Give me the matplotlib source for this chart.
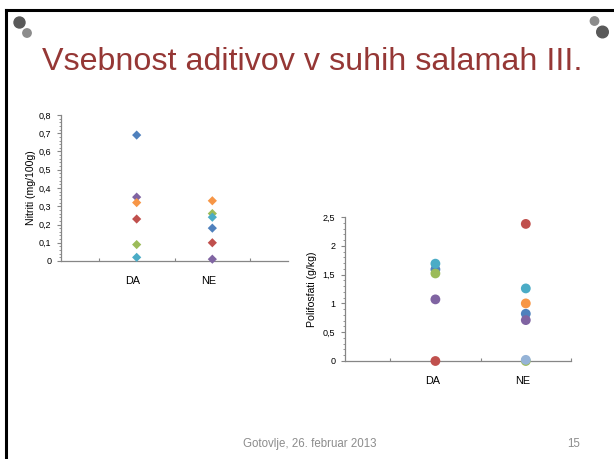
import matplotlib
matplotlib.use("Agg")
import matplotlib.pyplot as plt
from matplotlib.patches import Ellipse
from matplotlib.lines import Line2D

plt.rcParams['font.family'] = ['Liberation Sans', 'DejaVu Sans']

# ---- data ----
categories = ["DA", "NE"]
cat_x = [1, 2]

# Nitriti (mg/100g) — one series per sample colour: [DA, NE]
nitrit_colors = ["#4F81BD", "#C0504D", "#9BBB59", "#8064A2", "#4BACC6", "#F79646"]
nitrit_values = [
    [0.69, 0.18],
    [0.23, 0.10],
    [0.09, 0.26],
    [0.35, 0.01],
    [0.02, 0.24],
    [0.32, 0.33],
]
nitrit_yticks = [0, 0.1, 0.2, 0.3, 0.4, 0.5, 0.6, 0.7, 0.8]
nitrit_ylabels = ["0", "0,1", "0,2", "0,3", "0,4", "0,5", "0,6", "0,7", "0,8"]

# Polifosfati (g/kg): [DA, NE], None = not present
poli_colors = ["#4F81BD", "#C0504D", "#9BBB59", "#8064A2", "#4BACC6", "#F79646", "#95B3D7"]
poli_values = [
    [1.59, 0.82],
    [0.00, 2.38],
    [1.52, 0.00],
    [1.07, 0.71],
    [1.69, 1.26],
    [None, 1.00],
    [None, 0.02],
]
poli_yticks = [0, 0.5, 1, 1.5, 2, 2.5]
poli_ylabels = ["0", "0,5", "1", "1,5", "2", "2,5"]

W, H = 614, 459
fig = plt.figure(figsize=(W / 100, H / 100), dpi=100)
fig.patch.set_facecolor("white")

# slide border (top and left)
fig.add_artist(Line2D([6 / W, 1], [1 - 10 / H, 1 - 10 / H], color="black", lw=2.2, transform=fig.transFigure))
fig.add_artist(Line2D([6 / W, 6 / W], [0, 1 - 10 / H], color="black", lw=2.2, transform=fig.transFigure))

def edot(x, y, r, c):
    fig.add_artist(Ellipse((x / W, 1 - y / H), 2 * r / W, 2 * r / H, color=c, transform=fig.transFigure))

edot(19.5, 22.5, 5.5, "#595959")
edot(27, 33, 4.2, "#8c8c8c")
edot(594.5, 21, 4.2, "#8c8c8c")
edot(602.5, 32, 5.8, "#595959")

# title and footer
fig.text(312.5 / W, 1 - 62 / H, "Vsebnost aditivov v suhih salamah III.", ha="center", va="center",
         fontsize=23.2, color="#953735")
fig.text(310 / W, 1 - 444 / H, "Gotovlje, 26. februar 2013", ha="center", va="center",
         fontsize=8.3, color="#8c8c8c")
fig.text(574 / W, 1 - 444 / H, "15", ha="center", va="center", fontsize=8.3, color="#8c8c8c")

spine_c = "#868686"

def style_axes(ax):
    for s in ["top", "right"]:
        ax.spines[s].set_visible(False)
    for s in ["left", "bottom"]:
        ax.spines[s].set_color(spine_c)
        ax.spines[s].set_linewidth(0.9)
    ax.tick_params(axis="y", which="major", direction="out", length=3, color=spine_c,
                   labelsize=6.5, pad=4)
    ax.tick_params(axis="y", which="minor", direction="out", length=1.5, color=spine_c)
    ax.tick_params(axis="x", which="major", direction="in", length=2, color=spine_c,
                   labelbottom=False)
    ax.patch.set_alpha(0)

# left chart: Nitriti
ax1 = fig.add_axes([61 / W, 1 - 261 / H, 227 / W, 146 / H])
style_axes(ax1)
for c, vals in zip(nitrit_colors, nitrit_values):
    ax1.scatter(cat_x, vals, marker="D", s=22, color=c, edgecolors="none", zorder=3, clip_on=False)
ax1.set_xlim(0, 3)
ax1.set_ylim(0, 0.8)
ax1.set_xticks([0.5, 1.5, 2.5])
ax1.set_yticks(nitrit_yticks)
ax1.set_yticklabels(nitrit_ylabels)
ax1.set_yticks([i * 0.02 for i in range(41)], minor=True)
ax1.set_ylabel("Nitriti (mg/100g)", fontsize=7.6, labelpad=2)
for x, lab in zip(cat_x, categories):
    ax1.text(x - 0.05, -20 / 146, lab, transform=ax1.get_xaxis_transform(), ha="center",
             va="center", fontsize=7.8)

# right chart: Polifosfati
ax2 = fig.add_axes([345 / W, 1 - 361 / H, 226 / W, 144 / H])
style_axes(ax2)
for c, vals in zip(poli_colors, poli_values):
    xs = [x for x, v in zip(cat_x, vals) if v is not None]
    ys = [v for v in vals if v is not None]
    ax2.scatter(xs, ys, marker="o", s=50, color=c, edgecolors="none", zorder=3, clip_on=False)
ax2.set_xlim(0, 2.5)
ax2.set_ylim(0, 2.5)
ax2.set_xticks([0.5, 1.5, 2.5])
ax2.set_yticks(poli_yticks)
ax2.set_yticklabels(poli_ylabels)
ax2.set_yticks([i * 0.1 for i in range(26)], minor=True)
ax2.set_ylabel("Polifosfati (g/kg)", fontsize=7.6, labelpad=4)
for x, lab in zip(cat_x, categories):
    ax2.text(x - 0.03, -20 / 144, lab, transform=ax2.get_xaxis_transform(), ha="center",
             va="center", fontsize=7.8)

fig.savefig("out.png", dpi=100)
